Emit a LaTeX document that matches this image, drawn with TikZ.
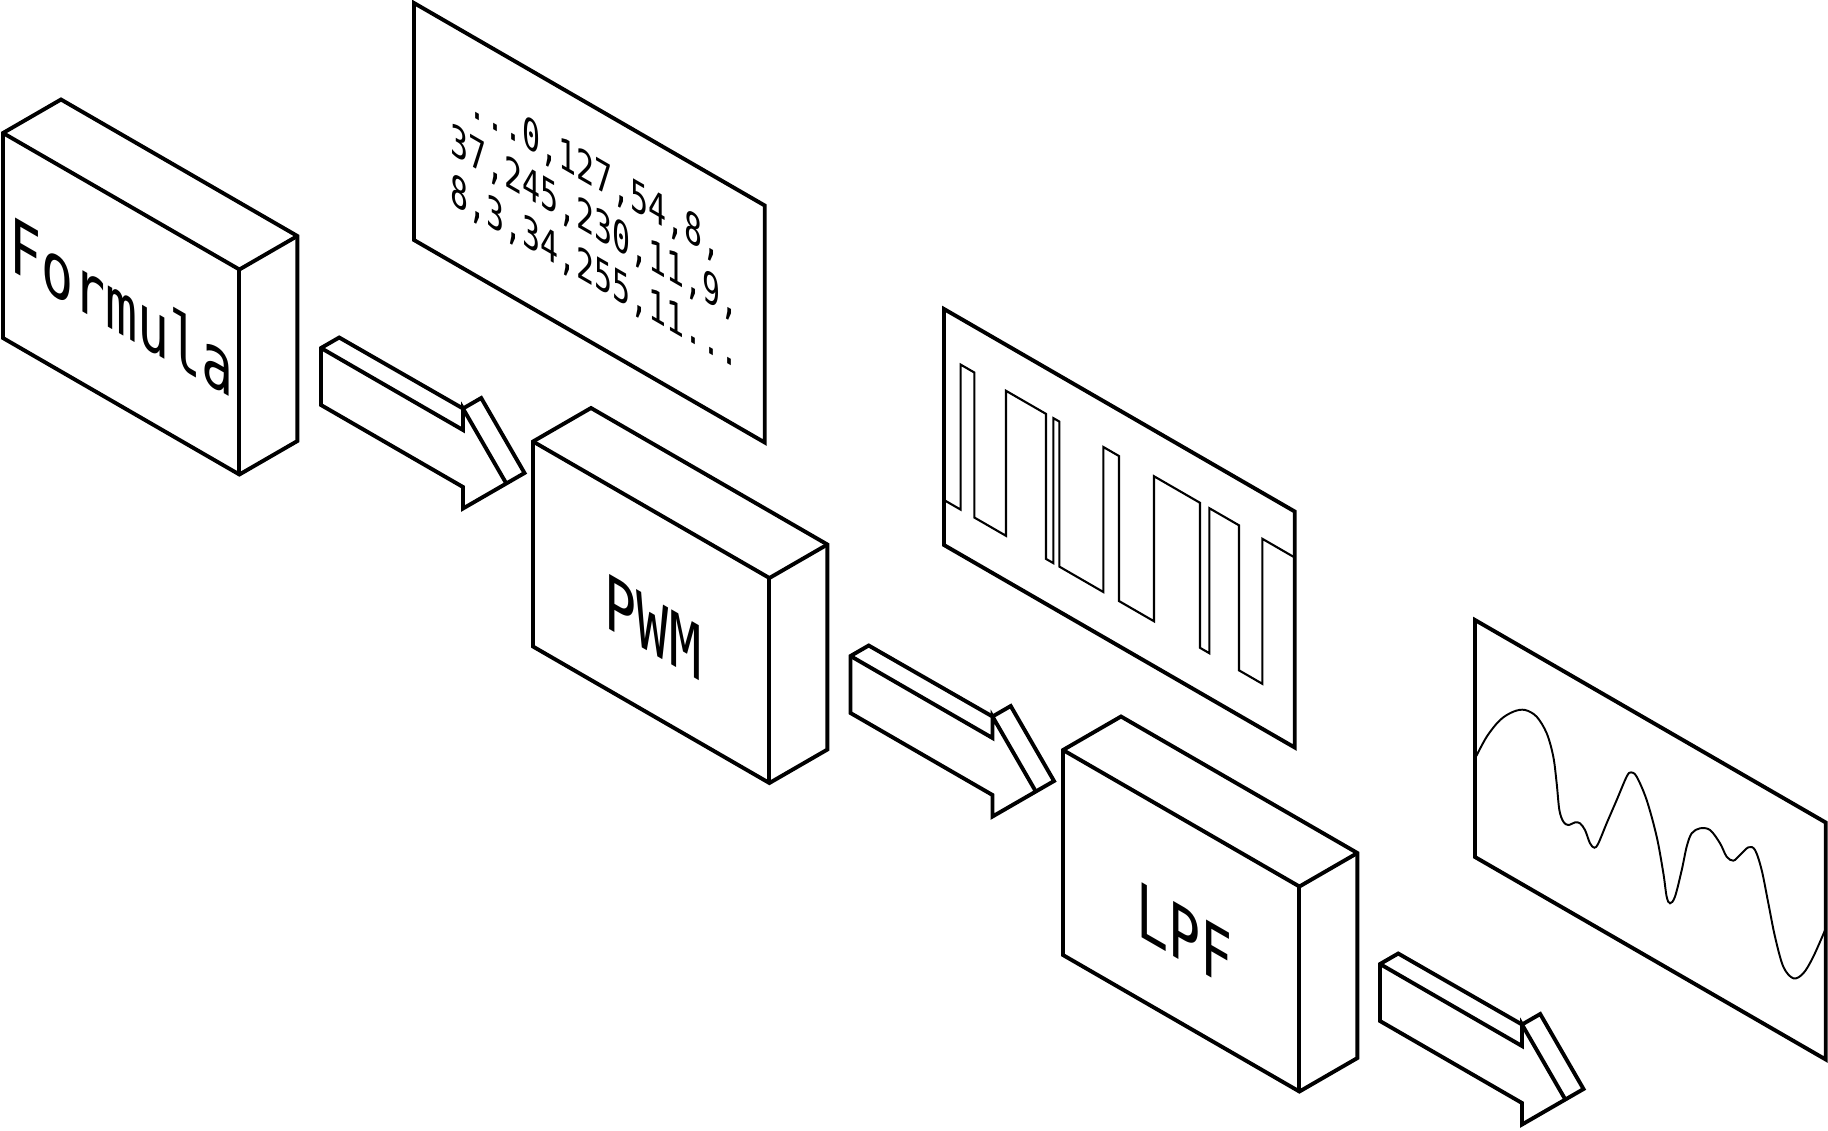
\documentclass[tikz,border=0pt]{standalone}
\usepackage{fontspec}
\newfontfamily\monofont{DejaVu Sans Mono}
\begin{document}
\begin{tikzpicture}[x=0.01cm,y=-0.01cm,line join=miter,
  edge/.style={line width=1.1pt},
  fine/.style={line width=0.6pt},
  lbl/.style={inner sep=0pt,transform shape,anchor=base,font=\monofont\fontsize{10}{12}\selectfont},
  nums/.style={inner sep=0pt,transform shape,anchor=base west,font=\monofont\fontsize{10}{12}\selectfont},
  pics/isobox/.style={code={
    \draw[edge] (0,0) -- (58,-33.5) -- (294.4,103) -- (294.4,308) -- (236.4,341.5) -- (0,205) -- cycle;
    \draw[edge] (0,0) -- (236.4,136.5) -- (294.4,103);
    \draw[edge] (236.4,136.5) -- (236.4,341.5);
  }},
  pics/isoarrow/.style={code={
    \draw[edge] (0,0) -- (18.2,-10.5) -- (142,60.5) -- (160.2,50) -- (203.5,125) -- (185.3,135.5) -- (142,160.5) -- (142,139) -- (0,57) -- cycle;
    \draw[edge] (0,0) -- (142,82) -- (142,60.5) -- (185.3,135.5);
  }}]
\useasboundingbox (0,0) rectangle (1828,1130);

% blocks
\pic (formulabox) at (3,133) {isobox};
\pic (pwmbox) at (533,441.5) {isobox};
\pic (lpfbox) at (1063,750) {isobox};

% arrows
\pic (arrowA) at (321,348) {isoarrow};
\pic (arrowB) at (850.5,656) {isoarrow};
\pic (arrowC) at (1380,964) {isoarrow};

% block labels
\begin{scope}[shift={(121.5,334.6)},cm={1.5155,-0.875,0,2.147,(0,0)}]
  \node[lbl] (formulalbl) at (0,0) {Formula};
\end{scope}
\begin{scope}[shift={(653,654)},cm={1.5155,-0.875,0,2.147,(0,0)}]
  \node[lbl] (pwmlbl) at (0,0) {PWM};
\end{scope}
\begin{scope}[shift={(1184.5,962.5)},cm={1.5155,-0.875,0,2.147,(0,0)}]
  \node[lbl] (lpflbl) at (0,0) {LPF};
\end{scope}

% numbers panel
\begin{scope}[shift={(414,3)},cm={0.866,-0.5,0,1,(0,0)}]
  \draw[edge] (0,0) -- (405,0) -- (405,237) -- (0,237) -- cycle;
\end{scope}
\begin{scope}[shift={(467.5,114.4)},cm={0.851,-0.4915,0,1.23,(0,0)}]
  \node[nums] (numA) at (0,0) {...0,127,54,8,};
\end{scope}
\begin{scope}[shift={(449.5,153.5)},cm={0.851,-0.4915,0,1.23,(0,0)}]
  \node[nums] (numB) at (0,0) {37,245,230,11,9,};
\end{scope}
\begin{scope}[shift={(449.5,203)},cm={0.851,-0.4915,0,1.23,(0,0)}]
  \node[nums] (numC) at (0,0) {8,3,34,255,11...};
\end{scope}

% PWM panel
\begin{scope}[shift={(944,309)},cm={0.866,-0.5,0,1,(0,0)}]
  \draw[edge] (0,0) -- (405,0) -- (405,236) -- (0,236) -- cycle;
  \draw[fine] (0,191) -- (19.2,191) -- (19.2,46) -- (35,46) -- (35,191) -- (71.6,191) -- (71.6,46)
    -- (117.8,46) -- (117.8,191) -- (126.2,191) -- (126.2,46) -- (133.2,46) -- (133.2,191)
    -- (184,191) -- (184,46) -- (202,46) -- (202,191) -- (242.5,191) -- (242.5,46)
    -- (295.6,46) -- (295.6,191) -- (306.4,191) -- (306.4,46) -- (340.6,46) -- (340.6,191)
    -- (367.6,191) -- (367.6,46) -- (405,46);
\end{scope}

% filtered signal panel
\begin{scope}[shift={(1475,620)},cm={0.866,-0.5,0,1,(0,0)}]
  \draw[edge] (0,0) -- (405,0) -- (405,237) -- (0,237) -- cycle;
  \draw[line width=0.55pt] plot[smooth,tension=0.55] coordinates {
    (0,138.5) (13.5,110) (28.9,85.6) (44.3,69.5) (57.7,61.1) (71.2,61.1) (82.8,71.9)
    (90.4,91.5) (94.3,116.2) (97.4,141.3) (102,150.7) (107.8,151.1) (115.5,144.6)
    (121.2,142.7) (127,146.5) (132.8,156.9) (137.8,158.8) (142.4,152.1) (152,127.3)
    (163.6,98.2) (175.1,69.1) (180.1,62.3) (186.7,63.4) (198.2,80.9) (209.8,111.8)
    (217.5,144.6) (221.3,166) (225.2,170.7) (230.9,161.2) (238.7,130.7) (244.4,104.5)
    (250.2,88.2) (259.8,78.4) (271.4,74.3) (282.9,81.8) (290.6,91.4) (298.3,91.5)
    (306,82) (315.6,69.5) (323.3,68.3) (331,84.5) (338.7,113.9) (346.4,143.5)
    (356,168.7) (367.6,174.5) (379.1,163.7) (390.6,141.4) (405,106)};
\end{scope}
\end{tikzpicture}
\end{document}
